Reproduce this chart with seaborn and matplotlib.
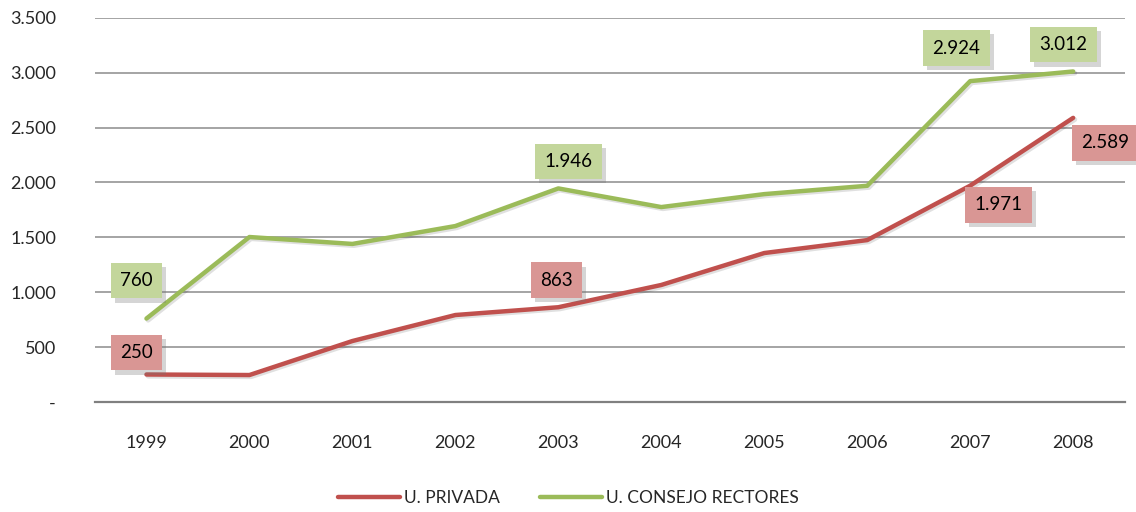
import matplotlib
matplotlib.use('Agg')
import pandas as pd
import matplotlib.pyplot as plt
import matplotlib.patheffects as pe
from matplotlib.ticker import FuncFormatter
import seaborn as sns

# ── Data ────────────────────────────────────────────────────────────────────
years = [1999, 2000, 2001, 2002, 2003, 2004, 2005, 2006, 2007, 2008]
privada = [250, 245, 555, 792, 863, 1066, 1357, 1475, 1971, 2589]
consejo = [760, 1503, 1440, 1603, 1946, 1776, 1894, 1970, 2924, 3012]
series_names = ['U. PRIVADA', 'U. CONSEJO RECTORES']

# labelled points per series: year -> label offset (px)
labels_privada = {1999: (-10, 22), 2003: (-2, 27), 2007: (28, -19), 2008: (32, -25)}
labels_consejo = {1999: (-10, 38), 2003: (10, 27), 2007: (-14, 33), 2008: (-10, 27)}

RED, GREEN = '#C0504D', '#9BBB59'
RED_BOX, GREEN_BOX = '#D99694', '#C3D69B'

df = pd.DataFrame({
    'year': years * 2,
    'value': privada + consejo,
    'serie': [series_names[0]] * len(years) + [series_names[1]] * len(years),
})

sns.set_style('white')
plt.rcParams['font.family'] = ['Lato', 'DejaVu Sans']

fig = plt.figure(figsize=(11.36, 5.12), dpi=100)
ax = fig.add_axes([0.0836, 0.215, 0.9064, 0.75])

shadow = [pe.SimpleLineShadow(offset=(1.2, -1.2), alpha=0.12, linewidth=3.5), pe.Normal()]
sns.lineplot(data=df, x='year', y='value', hue='serie',
             palette={series_names[0]: RED, series_names[1]: GREEN},
             linewidth=3.2, ax=ax, legend=False)
for line in ax.get_lines():
    line.set_path_effects(shadow)
    line.set_solid_capstyle('round')

ax.set_xlim(1998.5, 2008.5)
ax.set_ylim(0, 3500)
ax.set_xticks(years)
ax.set_yticks(range(0, 3501, 500))
ax.yaxis.set_major_formatter(FuncFormatter(
    lambda v, p: '-' if v == 0 else f'{int(v):,}'.replace(',', '.')))
ax.grid(axis='y', color='#8c8c8c', linewidth=1.1)
ax.grid(axis='x', visible=False)
ax.set_axisbelow(True)
for s in ['top', 'right', 'left']:
    ax.spines[s].set_visible(False)
ax.spines['bottom'].set_color('#808080')
ax.spines['bottom'].set_linewidth(1.6)
ax.tick_params(axis='y', length=0, pad=28, labelsize=13)
ax.tick_params(axis='x', length=0, pad=24, labelsize=13)
ax.set_xlabel('')
ax.set_ylabel('')


def fmt(v):
    return f'{v:,}'.replace(',', '.')


for vals, lab, box in [(privada, labels_privada, RED_BOX), (consejo, labels_consejo, GREEN_BOX)]:
    for yr, off in lab.items():
        v = vals[years.index(yr)]
        t = ax.annotate(fmt(v), (yr, v), xytext=off, textcoords='offset pixels',
                        ha='center', va='center', fontsize=13.5, color='black',
                        bbox=dict(boxstyle='square,pad=0.5', fc=box, ec='none'),
                        zorder=5, annotation_clip=False)
        t.get_bbox_patch().set_path_effects(
            [pe.withSimplePatchShadow(offset=(3, -3), shadow_rgbFace='#777777', alpha=0.3)])

handles = [plt.Line2D([], [], color=RED, linewidth=3.2),
           plt.Line2D([], [], color=GREEN, linewidth=3.2)]
fig.legend(handles, series_names, loc='center', bbox_to_anchor=(0.5, 0.027),
           ncol=2, frameon=False, fontsize=12.5, handlelength=3.6,
           handletextpad=0.2, columnspacing=2.3)

plt.savefig('out.png', dpi=100)
plt.close()
